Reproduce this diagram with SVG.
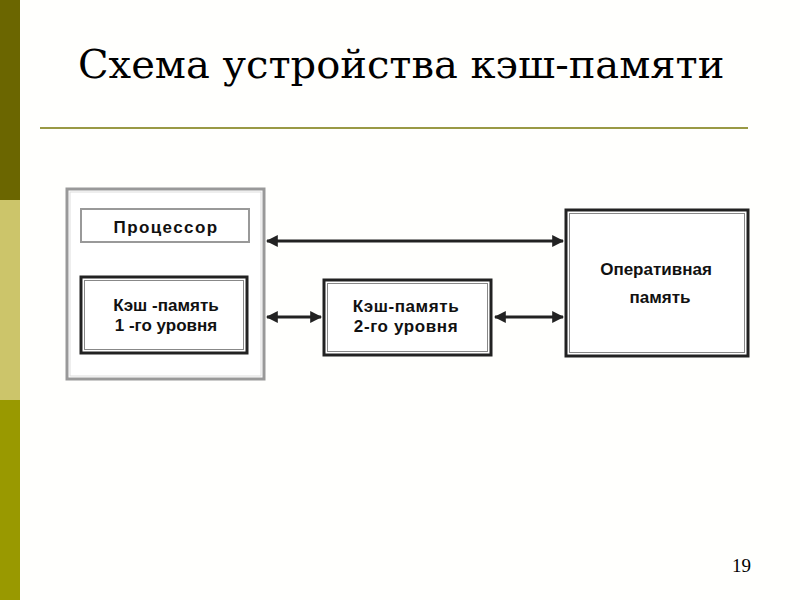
<svg xmlns="http://www.w3.org/2000/svg" width="800" height="600" viewBox="0 0 800 600">
<defs>
<marker id="ah" viewBox="0 0 10 10" refX="9" refY="5" markerWidth="4" markerHeight="4" orient="auto-start-reverse" markerUnits="strokeWidth">
<path d="M0,0 L10,5 L0,10 Z" fill="#222"/>
</marker>
<style>
.t{font-family:"DejaVu Serif","Liberation Serif",serif;}
.lbl{font-family:"Liberation Sans",Arial,sans-serif;font-weight:bold;font-size:17px;fill:#111;text-anchor:middle;}
.box{fill:#fff;stroke:#222;stroke-width:3;}
.box2{fill:none;stroke:#888;stroke-width:1;}
.conn{stroke:#222;stroke-width:3;fill:none;marker-start:url(#ah);marker-end:url(#ah);}
</style>
</defs>
<rect width="800" height="600" fill="#fffffd"/>
<rect x="0" y="0" width="20" height="200" fill="#6b6600"/>
<rect x="0" y="200" width="20" height="200" fill="#ccc56a"/>
<rect x="0" y="400" width="20" height="200" fill="#999900"/>
<text class="t" x="78" y="78" font-size="40" fill="#000">Схема устройства кэш-памяти</text>
<line x1="40" y1="128" x2="748" y2="128" stroke="#999944" stroke-width="2"/>
<g id="processor">
<rect x="67" y="189" width="197" height="190" fill="#fff" stroke="#999" stroke-width="3"/>
<rect x="70" y="192" width="191" height="184" fill="none" stroke="#ddd" stroke-width="1"/>
<g id="proc-label">
<rect x="81" y="209" width="168" height="33" fill="#fff" stroke="#999" stroke-width="2"/>
<text class="lbl" x="166" y="233" font-size="20" letter-spacing="1.4">Процессор</text>
</g>
<g id="l1">
<rect x="81" y="277" width="166" height="76" class="box"/>
<rect x="84.5" y="280.5" width="159" height="69" class="box2"/>
<text class="lbl" x="166" y="311">Кэш -память</text>
<text class="lbl" x="166" y="331">1 -го уровня</text>
</g>
</g>
<g id="l2">
<rect x="324" y="280" width="167" height="75" class="box"/>
<rect x="327.5" y="283.5" width="160" height="68" class="box2"/>
<text class="lbl" x="406" y="312" letter-spacing="0.6">Кэш-память</text>
<text class="lbl" x="406" y="332" letter-spacing="0.6">2-го уровня</text>
</g>
<g id="ram">
<rect x="566" y="210" width="182" height="146" class="box"/>
<rect x="569.5" y="213.5" width="175" height="139" class="box2"/>
<text class="lbl" x="656" y="275">Оперативная</text>
<text class="lbl" x="660" y="303">память</text>
</g>
<g id="connectors">
<line x1="267" y1="241" x2="563" y2="241" class="conn"/>
<line x1="267" y1="317" x2="321" y2="317" class="conn"/>
<line x1="495" y1="317" x2="563" y2="317" class="conn"/>
</g>
<text x="751" y="572" font-size="19" fill="#000" text-anchor="end" font-family="Liberation Serif,serif">19</text>
</svg>
